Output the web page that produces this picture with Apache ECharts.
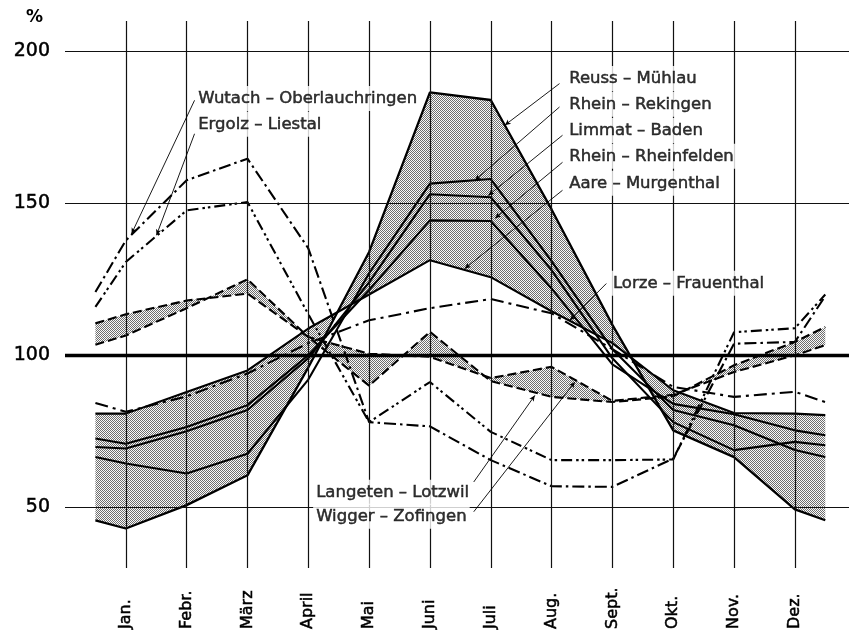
<!DOCTYPE html>
<html>
<head>
<meta charset="utf-8">
<script src="https://cdn.jsdelivr.net/npm/echarts@6/dist/echarts.min.js"></script>
<style>
  html, body { margin: 0; background: #fff; }
  #chart { width: 849px; height: 633px; }
</style>
</head>
<body>
<div id="chart"></div>
<script>
// month labels and their positions (0 = Jan.)
const months = ["Jan.", "Febr.", "März", "April", "Mai", "Juni", "Juli", "Aug.", "Sept.", "Okt.", "Nov.", "Dez."];
const monthPos = [0, 1, 2, 3, 4, 5, 6, 7, 8, 9, 10, 11];
const yTicks = [50, 100, 150, 200];
const hLines = [50, 150, 200];

// x positions of the values: half a month before Jan., every month, half a month after Dez.
const xPos = [-0.5, 0, 1, 2, 3, 4, 5, 6, 7, 8, 9, 10, 11, 11.5];

// monthly discharge in % of the yearly mean
const reuss       = [45.7, 43.0, 50.7, 60.5, 96.0, 134.0, 186.5, 184.0, 148.0, 110.0, 75.3, 66.5, 49.3, 45.7];
const rekingen    = [66.5, 64.4, 61.1, 67.6, 92.0, 127.0, 156.5, 158.0, 131.0, 102.0, 82.0, 77.0, 68.8, 66.5];
const limmat      = [69.8, 69.3, 75.0, 82.0, 99.0, 124.0, 153.0, 152.0, 128.0, 99.0, 78.0, 68.8, 71.5, 70.4];
const rheinfelden = [72.6, 70.9, 76.4, 83.6, 100.0, 121.5, 144.4, 144.2, 122.0, 97.0, 84.0, 80.6, 75.3, 73.7];
const aare        = [80.8, 80.8, 87.9, 95.0, 108.8, 120.0, 131.3, 125.7, 114.5, 104.0, 88.5, 81.0, 80.8, 80.3];
const lorze       = [84.3, 81.4, 86.5, 94.0, 104.0, 111.5, 115.5, 118.5, 113.8, 102.0, 89.6, 86.3, 88.0, 84.6];
const wutach      = [120.8, 137.8, 157.6, 164.7, 135.2, 78.0, 76.6, 65.5, 56.9, 56.7, 66.0, 103.8, 104.4, 119.5];
const ergolz      = [115.9, 130.7, 147.7, 150.4, 113.5, 78.0, 91.2, 74.8, 65.5, 65.5, 65.7, 107.6, 108.9, 120.0];
const langeten    = [110.5, 113.5, 118.0, 120.3, 106.0, 90.0, 107.7, 91.5, 86.3, 84.6, 86.5, 96.7, 104.4, 109.3];
const wigger      = [103.5, 106.5, 115.5, 125.0, 106.0, 100.5, 99.5, 92.5, 96.2, 85.0, 87.0, 94.5, 100.0, 103.3];

// station labels: text anchor and leader line (from, to) in chart values
const labelNames = ["Wutach – Oberlauchringen", "Ergolz – Liestal", "Reuss – Mühlau", "Rhein – Rekingen",
  "Limmat – Baden", "Rhein – Rheinfelden", "Aare – Murgenthal", "Lorze – Frauenthal",
  "Langeten – Lotzwil", "Wigger – Zofingen"];
const labelAt = [[1.14, 184.5], [1.14, 176.0], [7.24, 191.1], [7.24, 182.6], [7.24, 174.0],
  [7.24, 165.5], [7.24, 156.6], [7.96, 123.7], [3.08, 54.9], [3.08, 47.0]];
const leaderFrom = [[1.13, 183.9], [1.13, 172.9], [7.13, 189.4], [7.13, 181.7], [7.18, 172.4],
  [7.18, 163.5], [7.18, 154.3], [7.90, 123.6], [5.72, 58.3], [5.72, 48.5]];
const leaderTo = [[0.094, 140.0], [0.504, 139.5], [6.23, 175.7], [5.74, 157.6], [5.96, 152.6],
  [6.07, 145.1], [5.57, 128.5], [7.30, 111.5], [6.725, 86.8], [7.383, 91.2]];

const font = "DejaVu Sans";
const ink = "#000";

// fine stipple used for the shaded bands (4x4 checker tile)
const tile = document.createElement("canvas");
tile.width = 4; tile.height = 4;
const tc = tile.getContext("2d");
tc.fillStyle = "#fafafa"; tc.fillRect(0, 0, 4, 4);
tc.fillStyle = "#6e6e6e";
for (let i = 0; i < 4; i++) {
  for (let j = 0; j < 4; j++) {
    if ((i + j) % 2 === 0) tc.fillRect(i, j, 1, 1);
  }
}
const dots = { image: tile, repeat: "repeat" };

const pts = (arr) => xPos.map((x, i) => [x, arr[i]]);

function band(upper, lower) {
  return {
    type: "custom",
    z: 1,
    silent: true,
    data: [[0, 100]],
    renderItem: (params, api) => {
      const top = xPos.map((x, i) => api.coord([x, upper[i]]));
      const bottom = xPos.map((x, i) => api.coord([x, lower[i]])).reverse();
      return { type: "polygon", shape: { points: top.concat(bottom) }, style: { fill: dots } };
    },
  };
}

function line(name, arr, dash, width) {
  return {
    name: name,
    type: "line",
    z: 3,
    silent: true,
    data: pts(arr),
    showSymbol: false,
    lineStyle: { color: ink, width: width || 2, type: dash || "solid" },
  };
}

const heavy = { textBorderColor: ink, textBorderWidth: 0.5 };

const chart = echarts.init(document.getElementById("chart"));

chart.setOption({
  animation: false,
  title: {
    text: "%", left: 21, top: 4,
    textStyle: { fontFamily: font, fontSize: 17, fontWeight: "bold", color: ink },
  },
  grid: { left: 65, right: 0, top: 21, bottom: 65 },
  xAxis: {
    type: "value", min: -1, max: 11.89,
    axisLine: { show: false }, axisTick: { show: false }, splitLine: { show: false },
    axisLabel: Object.assign({
      customValues: monthPos,
      formatter: (v) => months[Math.round(v)],
      rotate: 90, align: "left", verticalAlign: "middle", margin: 61,
      fontFamily: font, fontSize: 16, color: ink,
    }, heavy),
  },
  yAxis: {
    type: "value", min: 30, max: 210,
    axisLine: { show: false }, axisTick: { show: false }, splitLine: { show: false },
    axisLabel: Object.assign({ customValues: yTicks, margin: 15, fontFamily: font, fontSize: 19, color: ink }, heavy),
  },
  series: [
    band(reuss, aare),
    band(langeten, wigger),
    {
      // grid lines
      type: "line", z: 2, silent: true, data: [],
      markLine: {
        silent: true, symbol: "none", animation: false,
        label: { show: false },
        lineStyle: { color: "#111", width: 1.2, type: "solid" },
        data: monthPos.map((m) => ({ xAxis: m }))
          .concat(hLines.map((v) => ({ yAxis: v })))
          .concat([{ yAxis: 100, lineStyle: { width: 3.4, color: "#000" } }]),
      },
    },
    line("Reuss-Mühlau", reuss, "solid", 2.3),
    line("Rhein-Rekingen", rekingen, "solid", 2.1),
    line("Limmat-Baden", limmat, "solid", 2.1),
    line("Rhein-Rheinfelden", rheinfelden, "solid", 2.1),
    line("Aare-Murgenthal", aare, "solid", 2.1),
    line("Lorze-Frauenthal", lorze, [13, 5, 3, 5], 2.1),
    line("Wutach-Oberlauchringen", wutach, [12, 4, 2.5, 4], 2.1),
    line("Ergolz-Liestal", ergolz, [11, 4, 2.5, 3, 2.5, 4], 2.1),
    line("Langeten-Lotzwil", langeten, [9, 4], 2.1),
    line("Wigger-Zofingen", wigger, [9, 4], 2.1),
    {
      // station names with leader lines
      type: "scatter", z: 5, silent: true, symbolSize: 0,
      data: labelNames.map((n, i) => ({ name: n, value: labelAt[i] })),
      label: Object.assign({
        show: true, formatter: "{b}", position: "right", distance: 0,
        fontFamily: font, fontSize: 16.5, color: ink,
        backgroundColor: "#fff", padding: [4, 3],
      }, heavy),
      markLine: {
        silent: true, animation: false,
        symbol: ["none", "arrow"], symbolSize: [4, 6],
        label: { show: false },
        lineStyle: { color: ink, width: 0.9, type: "solid" },
        data: leaderFrom.map((p, i) => [{ coord: p }, { coord: leaderTo[i] }]),
      },
    },
  ],
});
</script>
</body>
</html>
